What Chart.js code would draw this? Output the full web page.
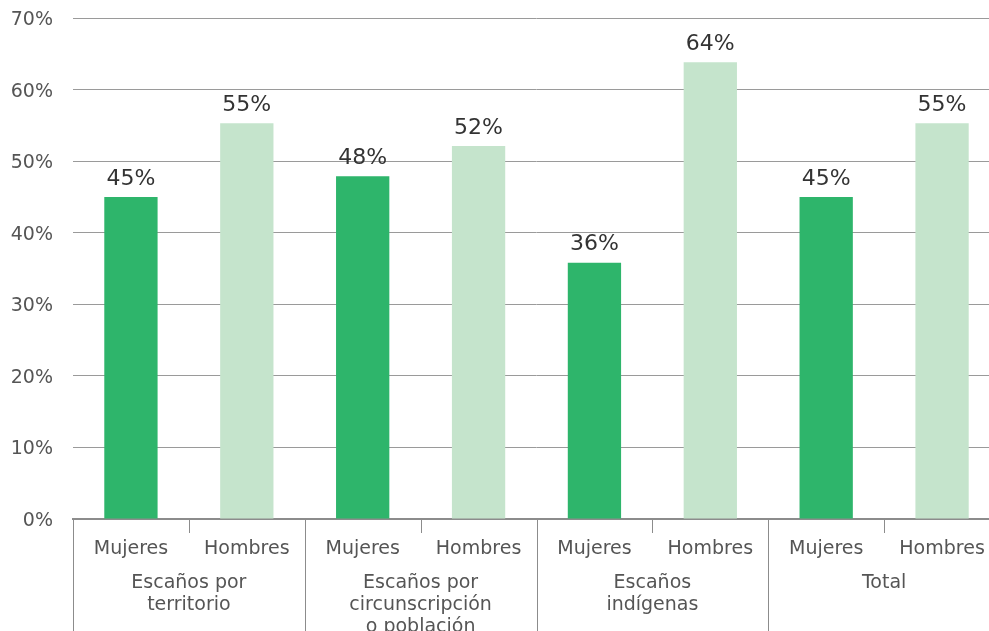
<!DOCTYPE html>
<html>
<head>
<meta charset="utf-8">
<script src="https://cdn.jsdelivr.net/npm/chart.js@4/dist/chart.umd.min.js"></script>
<style>
  body { margin: 0; background: #fff; overflow: hidden; }
  #wrap { width: 989px; height: 631px; overflow: hidden; }
  canvas { display: block; }
</style>
</head>
<body>
<div id="wrap"><canvas id="chart" width="1000" height="631"></canvas></div>
<script>
// Datos
const sexos = ['Mujeres', 'Hombres', 'Mujeres', 'Hombres', 'Mujeres', 'Hombres', 'Mujeres', 'Hombres'];
const grupos = [
  ['Escaños por', 'territorio'],
  ['Escaños por', 'circunscripción', 'o población'],
  ['Escaños', 'indígenas'],
  ['Total']
];
const valores = [45.0, 55.3, 47.9, 52.1, 35.8, 63.8, 45.0, 55.3];
const etiquetas = ['45%', '55%', '48%', '52%', '36%', '64%', '45%', '55%'];
const colores = ['#2eb56b', '#c5e4cc', '#2eb56b', '#c5e4cc', '#2eb56b', '#c5e4cc', '#2eb56b', '#c5e4cc'];
const ticksY = [0, 10, 20, 30, 40, 50, 60, 70];

const FONT = 'DejaVu Sans';

// Etiquetas de valor y separadores del eje x
const extras = {
  id: 'extras',
  afterDatasetsDraw(chart) {
    const ctx = chart.ctx;
    const meta = chart.getDatasetMeta(0);
    ctx.save();
    ctx.font = '22px "' + FONT + '"';
    ctx.fillStyle = '#333';
    ctx.textAlign = 'center';
    ctx.textBaseline = 'bottom';
    meta.data.forEach((bar, i) => {
      ctx.fillText(etiquetas[i], bar.x, bar.y - 7);
    });
    ctx.restore();
  },
  afterDraw(chart) {
    const ctx = chart.ctx;
    const x = chart.scales.x;
    const bottom = chart.chartArea.bottom;
    ctx.save();
    ctx.strokeStyle = '#8c8c8c';
    ctx.lineWidth = 1;
    for (let i = 0; i < sexos.length; i++) {
      const px = i === 0 ? chart.chartArea.left + 0.5
        : Math.round((x.getPixelForValue(i - 1) + x.getPixelForValue(i)) / 2) + 0.5;
      const largo = i % 2 === 0 ? chart.height : bottom + 14;
      ctx.beginPath();
      ctx.moveTo(px, bottom);
      ctx.lineTo(px, largo);
      ctx.stroke();
    }
    ctx.restore();
  }
};

const sinPadding = s => { s.paddingLeft = 0; s.paddingRight = 0; };

new Chart(document.getElementById('chart'), {
  type: 'bar',
  data: {
    labels: sexos,
    datasets: [{
      data: valores,
      backgroundColor: colores,
      borderWidth: 0,
      categoryPercentage: 1,
      barPercentage: 0.46,
    }]
  },
  options: {
    responsive: false,
    animation: false,
    layout: { padding: { top: 18, right: 0, left: 0, bottom: 0 } },
    plugins: { legend: { display: false }, tooltip: { enabled: false } },
    scales: {
      y: {
        min: 0,
        max: 70,
        afterBuildTicks: s => { s.ticks = ticksY.map(v => ({ value: v })); },
        afterFit: s => { s.width = 73; s.paddingTop = 0; s.paddingBottom = 0; },
        border: { display: false },
        grid: { color: '#9a9a9a', drawTicks: false },
        ticks: {
          padding: 20,
          labelOffset: 2,
          color: '#555',
          font: { family: FONT, size: 19 },
          callback: v => v + '%'
        }
      },
      x: {
        offset: true,
        afterFit: s => { s.height = 44; sinPadding(s); },
        border: { color: '#8c8c8c', width: 2 },
        grid: { display: false, drawTicks: false },
        ticks: {
          padding: 19,
          color: '#555',
          maxRotation: 0,
          autoSkip: false,
          font: { family: FONT, size: 19 }
        }
      },
      x2: {
        type: 'category',
        position: 'bottom',
        labels: grupos,
        offset: true,
        afterFit: s => { s.height = 68; sinPadding(s); },
        border: { display: false },
        grid: { display: false, drawTicks: false },
        ticks: {
          padding: 9,
          color: '#555',
          maxRotation: 0,
          autoSkip: false,
          font: { family: FONT, size: 19, lineHeight: 1.15 }
        }
      }
    }
  },
  plugins: [extras]
});
</script>
</body>
</html>
